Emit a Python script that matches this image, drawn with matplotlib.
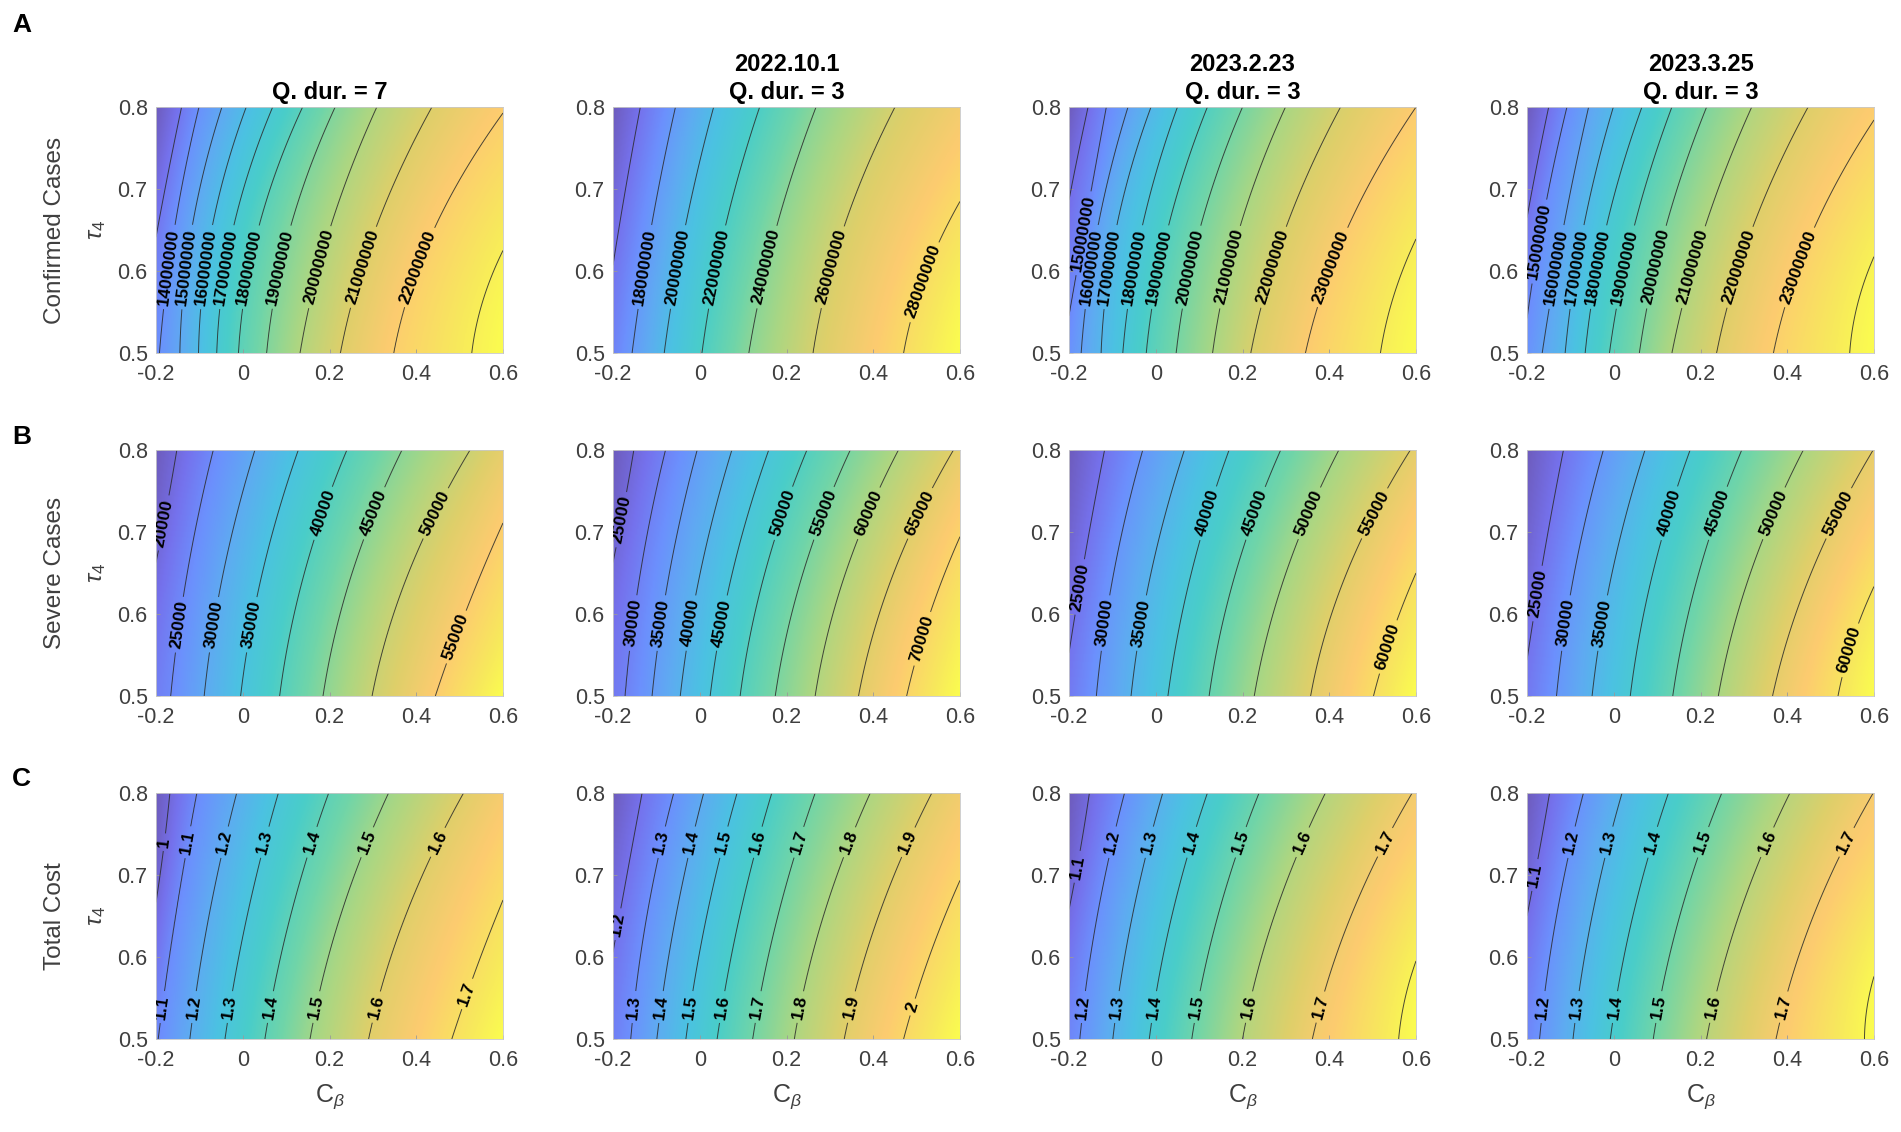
import numpy as np
import matplotlib.pyplot as plt
from matplotlib.colors import LinearSegmentedColormap

plt.rcParams['font.family'] = 'Liberation Sans'
plt.rcParams['axes.unicode_minus'] = False
plt.rcParams['mathtext.fontset'] = 'custom'
plt.rcParams['mathtext.rm'] = 'Liberation Sans'
plt.rcParams['mathtext.it'] = 'Liberation Sans:italic'

### values ###
# each row: contour level, C_beta where it crosses tau4 = 0.5, 0.65, 0.8
# (crossings outside -0.2..0.6 are where the line leaves the box)
col_titles = ['Q. dur. = 7', '2022.10.1\nQ. dur. = 3',
              '2023.2.23\nQ. dur. = 3', '2023.3.25\nQ. dur. = 3']
row_names = ['Confirmed Cases', 'Severe Cases', 'Total Cost']
tau_cuts = [0.5, 0.65, 0.8]

conf_7 = np.array([
    [13e6, -0.245, -0.197, -0.141],
    [14e6, -0.192, -0.158, -0.101],
    [15e6, -0.145, -0.118, -0.048],
    [16e6, -0.102, -0.072, 0.008],
    [17e6, -0.060, -0.023, 0.069],
    [18e6, -0.010, 0.035, 0.138],
    [19e6, 0.055, 0.108, 0.213],
    [20e6, 0.132, 0.200, 0.309],
    [21e6, 0.225, 0.305, 0.436],
    [22e6, 0.348, 0.440, 0.610],
    [23e6, 0.528, 0.625, 0.850]])
conf_221001 = np.array([
    [16e6, -0.230, -0.187, -0.137],
    [18e6, -0.156, -0.113, -0.056],
    [20e6, -0.082, -0.035, 0.032],
    [22e6, 0.005, 0.057, 0.138],
    [24e6, 0.113, 0.175, 0.268],
    [26e6, 0.261, 0.330, 0.450],
    [28e6, 0.470, 0.565, 0.750]])
conf_230223 = np.array([
    [14e6, -0.260, -0.213, -0.156],
    [15e6, -0.215, -0.165, -0.114],
    [16e6, -0.172, -0.135, -0.064],
    [17e6, -0.126, -0.092, -0.011],
    [18e6, -0.076, -0.033, 0.050],
    [19e6, -0.022, 0.027, 0.119],
    [20e6, 0.047, 0.101, 0.200],
    [21e6, 0.131, 0.192, 0.299],
    [22e6, 0.219, 0.298, 0.426],
    [23e6, 0.345, 0.440, 0.600],
    [24e6, 0.518, 0.610, 0.800]])
conf_230325 = np.array([
    [14e6, -0.250, -0.205, -0.150],
    [15e6, -0.210, -0.168, -0.108],
    [16e6, -0.165, -0.117, -0.058],
    [17e6, -0.112, -0.071, -0.001],
    [18e6, -0.066, -0.019, 0.065],
    [19e6, -0.010, 0.045, 0.134],
    [20e6, 0.059, 0.118, 0.214],
    [21e6, 0.134, 0.208, 0.318],
    [22e6, 0.237, 0.318, 0.448],
    [23e6, 0.368, 0.460, 0.620],
    [24e6, 0.544, 0.630, 0.850]])

sev_7 = np.array([
    [20000, -0.270, -0.205, -0.152],
    [25000, -0.166, -0.128, -0.068],
    [30000, -0.089, -0.045, 0.028],
    [35000, -0.005, 0.045, 0.128],
    [40000, 0.085, 0.142, 0.240],
    [45000, 0.185, 0.252, 0.367],
    [50000, 0.298, 0.382, 0.524],
    [55000, 0.444, 0.550, 0.680]])
sev_221001 = np.array([
    [25000, -0.270, -0.205, -0.152],
    [30000, -0.172, -0.137, -0.079],
    [35000, -0.110, -0.070, -0.006],
    [40000, -0.045, 0.001, 0.074],
    [45000, 0.024, 0.075, 0.159],
    [50000, 0.093, 0.150, 0.247],
    [55000, 0.174, 0.238, 0.347],
    [60000, 0.266, 0.336, 0.458],
    [65000, 0.366, 0.447, 0.585],
    [70000, 0.477, 0.565, 0.700]])
sev_230223 = np.array([
    [25000, -0.215, -0.170, -0.118],
    [30000, -0.137, -0.097, -0.030],
    [35000, -0.057, -0.011, 0.066],
    [40000, 0.028, 0.082, 0.169],
    [45000, 0.123, 0.184, 0.288],
    [50000, 0.227, 0.300, 0.422],
    [55000, 0.357, 0.440, 0.587],
    [60000, 0.502, 0.600, 0.750]])
sev_230325 = np.array([
    [25000, -0.212, -0.168, -0.116],
    [30000, -0.132, -0.091, -0.024],
    [35000, -0.050, -0.004, 0.072],
    [40000, 0.038, 0.090, 0.176],
    [45000, 0.136, 0.196, 0.295],
    [50000, 0.241, 0.315, 0.437],
    [55000, 0.366, 0.455, 0.598],
    [60000, 0.517, 0.615, 0.800]])

cost_7 = np.array([
    [1.0, -0.260, -0.205, -0.168],
    [1.1, -0.195, -0.155, -0.106],
    [1.2, -0.122, -0.078, -0.014],
    [1.3, -0.041, 0.010, 0.082],
    [1.4, 0.051, 0.110, 0.198],
    [1.5, 0.155, 0.225, 0.336],
    [1.6, 0.290, 0.375, 0.509],
    [1.7, 0.482, 0.585, 0.710]])
cost_221001 = np.array([
    [1.1, -0.330, -0.260, -0.198],
    [1.2, -0.235, -0.185, -0.133],
    [1.3, -0.159, -0.122, -0.060],
    [1.4, -0.099, -0.055, 0.009],
    [1.5, -0.032, 0.016, 0.086],
    [1.6, 0.040, 0.092, 0.166],
    [1.7, 0.122, 0.180, 0.266],
    [1.8, 0.218, 0.285, 0.393],
    [1.9, 0.333, 0.412, 0.535],
    [2.0, 0.470, 0.565, 0.700]])
cost_230223 = np.array([
    [1.1, -0.270, -0.203, -0.153],
    [1.2, -0.175, -0.135, -0.072],
    [1.3, -0.099, -0.054, 0.016],
    [1.4, -0.015, 0.037, 0.119],
    [1.5, 0.083, 0.143, 0.238],
    [1.6, 0.200, 0.273, 0.391],
    [1.7, 0.361, 0.450, 0.591],
    [1.8, 0.560, 0.645, 0.850]])
cost_230325 = np.array([
    [1.1, -0.260, -0.200, -0.148],
    [1.2, -0.171, -0.132, -0.070],
    [1.3, -0.094, -0.050, 0.019],
    [1.4, -0.008, 0.044, 0.126],
    [1.5, 0.091, 0.152, 0.249],
    [1.6, 0.214, 0.288, 0.406],
    [1.7, 0.374, 0.460, 0.598],
    [1.8, 0.578, 0.660, 0.900]])

tables = [[conf_7, conf_221001, conf_230223, conf_230325],
          [sev_7, sev_221001, sev_230223, sev_230325],
          [cost_7, cost_221001, cost_230223, cost_230325]]

### where the inline labels sit (level, tau4) ###
def at(levels, tau):
    return [(v, tau) for v in levels]

label_spots = [
    [at(conf_7[1:10, 0], 0.605),
     at(conf_221001[1:6, 0], 0.605) + [(28e6, 0.587)],
     [(15e6, 0.646)] + at(conf_230223[2:10, 0], 0.605),
     [(15e6, 0.636)] + at(conf_230325[2:10, 0], 0.605)],
    [[(20000, 0.711)] + at([25000, 30000, 35000], 0.587)
     + at([40000, 45000, 50000], 0.723) + [(55000, 0.572)],
     [(25000, 0.715)] + at([30000, 35000, 40000, 45000], 0.589)
     + at([50000, 55000, 60000, 65000], 0.723) + [(70000, 0.57)],
     [(25000, 0.633)] + at([30000, 35000], 0.589)
     + at([40000, 45000, 50000, 55000], 0.723) + [(60000, 0.56)],
     [(25000, 0.625)] + at([30000, 35000], 0.589)
     + at([40000, 45000, 50000, 55000], 0.723) + [(60000, 0.556)]],
    [at(cost_7[:7, 0], 0.74) + at(cost_7[1:7, 0], 0.539) + [(1.7, 0.555)],
     [(1.2, 0.64)] + at(cost_221001[2:9, 0], 0.74) + at(cost_221001[2:10, 0], 0.539),
     [(1.1, 0.71)] + at(cost_230223[1:7, 0], 0.74) + at(cost_230223[1:7, 0], 0.539),
     [(1.1, 0.70)] + at(cost_230325[1:7, 0], 0.74) + at(cost_230325[1:7, 0], 0.539)],
]

# parula, washed with white like the semi-transparent surface
parula = [(0.00, (0.2422, 0.1504, 0.6603)), (0.10, (0.2788, 0.2598, 0.9035)),
          (0.20, (0.2300, 0.4200, 0.9900)), (0.30, (0.1600, 0.5600, 0.9300)),
          (0.40, (0.0600, 0.6800, 0.8500)), (0.50, (0.0500, 0.7400, 0.7200)),
          (0.60, (0.2500, 0.7800, 0.5500)), (0.70, (0.5600, 0.7900, 0.3500)),
          (0.80, (0.8300, 0.7500, 0.2200)), (0.875, (0.9900, 0.7300, 0.2500)),
          (0.95, (0.9600, 0.8800, 0.1500)), (1.00, (0.9770, 0.9840, 0.0810))]
alpha = 0.75
cmap = LinearSegmentedColormap.from_list(
    'parula_soft', [(p, tuple(alpha * c + (1 - alpha) for c in rgb)) for p, rgb in parula])


def crossings(tab, t):
    # quadratic through the three read crossings of every level
    t = np.asarray(t, dtype=float)[..., None]
    t0, t1, t2 = tau_cuts
    l0 = (t - t1) * (t - t2) / ((t0 - t1) * (t0 - t2))
    l1 = (t - t0) * (t - t2) / ((t1 - t0) * (t1 - t2))
    l2 = (t - t0) * (t - t1) / ((t2 - t0) * (t2 - t1))
    return l0 * tab[:, 1] + l1 * tab[:, 2] + l2 * tab[:, 3]


def surface(tab, xg, tg):
    lev = tab[:, 0]
    xk = crossings(tab, tg)
    zz = np.empty((len(tg), len(xg)))
    for i, xs in enumerate(xk):
        z = np.interp(xg, xs, lev)
        lo = xg < xs[0]
        hi = xg > xs[-1]
        z[lo] = lev[0] - (xs[0] - xg[lo]) * (lev[1] - lev[0]) / (xs[1] - xs[0])
        z[hi] = lev[-1] + (xg[hi] - xs[-1]) * (lev[-1] - lev[-2]) / (xs[-1] - xs[-2])
        zz[i] = z
    return zz


W, H = 1901, 1132
fig = plt.figure(figsize=(W / 100, H / 100), dpi=100)
col_left = [156, 613, 1069, 1527]
row_top = [107, 450, 793]
aw, ah = 347, 246
grey = '#3f3f3f'

xg = np.linspace(-0.2, 0.6, 321)
tg = np.linspace(0.5, 0.8, 241)

for r in range(3):
    for c in range(4):
        tab = tables[r][c]
        ax = fig.add_axes([col_left[c] / W, 1 - (row_top[r] + ah) / H, aw / W, ah / H])
        zz = surface(tab, xg, tg)
        ax.imshow(zz, extent=[-0.2, 0.6, 0.5, 0.8], origin='lower', aspect='auto',
                  cmap=cmap, interpolation='bilinear')
        cs = ax.contour(xg, tg, zz, levels=tab[:, 0], colors='#2a2a2a',
                        linewidths=0.7, alpha=0.85)
        spots = label_spots[r][c]
        lev_list = list(tab[:, 0])
        pts = []
        for v, t in spots:
            k = lev_list.index(v)
            pts.append((crossings(tab, [t])[0][k], t))
        fmt = '%d' if r < 2 else (lambda v: '%g' % v)
        txt = ax.clabel(cs, manual=pts, fmt=fmt, fontsize=12.5, inline=True,
                        inline_spacing=4)
        for t in txt:
            t.set_fontweight('bold')
            t.set_color('black')
            t.set_alpha(1)
        ax.set_xlim(-0.2, 0.6)
        ax.set_ylim(0.5, 0.8)
        ax.set_xticks([-0.2, 0, 0.2, 0.4, 0.6])
        ax.set_yticks([0.5, 0.6, 0.7, 0.8])
        ax.set_xticklabels(['-0.2', '0', '0.2', '0.4', '0.6'])
        ax.set_yticklabels(['0.5', '0.6', '0.7', '0.8'])
        ax.tick_params(direction='in', length=3, width=0.6, color='#9a9a9a',
                       labelsize=15.5, labelcolor=grey)
        ax.tick_params(axis='x', pad=8)
        ax.tick_params(axis='y', pad=6)
        for s in ax.spines.values():
            s.set_color('#c8c8c8')
            s.set_linewidth(0.6)
        if r == 0:
            ax.set_title(col_titles[c], fontsize=17, fontweight='bold', pad=6,
                         linespacing=1.25)
        if r == 2:
            ax.set_xlabel(r'C$_{\beta}$', fontsize=18, color=grey, labelpad=8)
        if c == 0:
            yc = 1 - (row_top[r] + ah / 2) / H
            fig.text(55 / W, yc, row_names[r], rotation=90, ha='center', va='center',
                     fontsize=17.5, color=grey)
            fig.text(97 / W, yc, r'$\tau_4$', rotation=90, ha='center', va='center',
                     fontsize=17.5, color=grey)

for letter, top in zip('ABC', [13, 425, 767]):
    fig.text(12 / W, 1 - top / H, letter, ha='left', va='top', fontsize=19,
             fontweight='bold')

fig.savefig('out.png', dpi=100)
